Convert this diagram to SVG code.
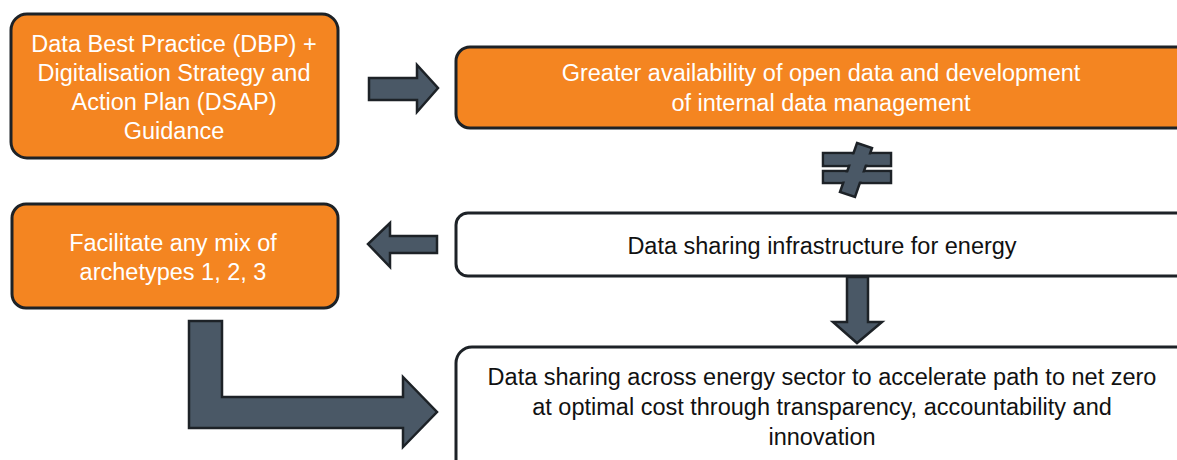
<svg xmlns="http://www.w3.org/2000/svg" width="1177" height="460" viewBox="0 0 1177 460">
<style>
.box{stroke:#1d2227;stroke-width:3}
.org{fill:#f48521}
.wht{fill:#ffffff}
.arr{fill:#4a5866;stroke:#1d2227;stroke-width:2.5;stroke-linejoin:miter}
text{font-family:"Liberation Sans",Arial,sans-serif;font-size:23.5px;text-anchor:middle}
.tw{fill:#ffffff}
.tb{fill:#111111}
</style>
<rect width="1177" height="460" fill="#ffffff"/>
<g id="node-dbp">
<rect class="box org" x="11" y="14" width="327" height="144" rx="16"/>
<text class="tw" x="174" y="52" font-size="22.5">Data Best Practice (DBP) +</text>
<text class="tw" x="174" y="81">Digitalisation Strategy and</text>
<text class="tw" x="174" y="110">Action Plan (DSAP)</text>
<text class="tw" x="174" y="139">Guidance</text>
</g>
<g id="node-availability">
<rect class="box org" x="456" y="47" width="740" height="81" rx="14"/>
<text class="tw" x="821" y="81">Greater availability of open data and development</text>
<text class="tw" x="821" y="111">of internal data management</text>
</g>
<g id="node-archetypes">
<rect class="box org" x="12" y="204" width="326" height="104" rx="14"/>
<text class="tw" x="173" y="251">Facilitate any mix of</text>
<text class="tw" x="173" y="280">archetypes 1, 2, 3</text>
</g>
<g id="node-infrastructure">
<rect class="box wht" x="456" y="213" width="740" height="63" rx="12"/>
<text class="tb" x="822" y="254">Data sharing infrastructure for energy</text>
</g>
<g id="node-sharing">
<rect class="box wht" x="456" y="347" width="740" height="130" rx="16"/>
<text class="tb" x="822" y="385">Data sharing across energy sector to accelerate path to net zero</text>
<text class="tb" x="822" y="415">at optimal cost through transparency, accountability and</text>
<text class="tb" x="822" y="445">innovation</text>
</g>
<g id="connectors">
<path class="arr" d="M369,78 L417,78 L417,65 L438,88 L417,112 L417,100 L369,100 Z"/>
<path class="arr" d="M437,236 L390,236 L390,223 L368,244 L390,267 L390,253 L437,253 Z"/>
<path class="arr" d="M847,277 L868,277 L868,322 L882,322 L857,343 L833,322 L847,322 Z"/>
<path class="arr" d="M189,321 L222,321 L222,397 L403,397 L403,377 L437,412 L403,447 L403,428 L189,428 Z"/>
<g id="not-equal">
<rect class="arr" x="823" y="153" width="68" height="13"/>
<rect class="arr" x="823" y="171" width="68" height="12"/>
<polygon class="arr" points="857,143 872,148 855,197 840,192"/>
<rect x="824.5" y="154.5" width="65" height="10" fill="#4a5866"/>
<rect x="824.5" y="172.5" width="65" height="9" fill="#4a5866"/>
</g>
</g>
</svg>
